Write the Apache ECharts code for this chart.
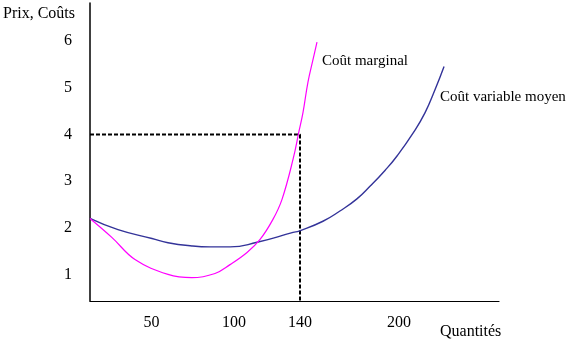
<!DOCTYPE html>
<html>
<head>
<meta charset="utf-8">
<script src="https://cdn.jsdelivr.net/npm/echarts@6/dist/echarts.min.js"></script>
<style>
html,body{margin:0;padding:0;background:#fff;}
#c{width:576px;height:346px;}
</style>
</head>
<body>
<div id="c"></div>
<script>
// Coût marginal (quantité, coût)
var cmQ = [12.7, 26.1, 40, 60, 74.5, 88.5, 97.6, 107.9, 115.8, 123.6, 129.1, 135.8, 139.4, 141.8, 144.8, 147.9, 150.3];
var cmP = [2.20, 1.79, 1.32, 1.00, 0.93, 1.02, 1.21, 1.47, 1.75, 2.18, 2.61, 3.47, 4.07, 4.47, 5.12, 5.61, 5.98];
// Coût variable moyen
var cvmQ = [12.7, 29.7, 50.3, 60, 74.5, 85.5, 97.6, 114, 135.8, 139.4, 153.9, 164.2, 174.5, 182.4, 191.5, 198.8, 208.5, 215.8, 221.8, 227.3];
var cvmP = [2.20, 1.96, 1.77, 1.68, 1.61, 1.59, 1.59, 1.69, 1.90, 1.93, 2.14, 2.36, 2.62, 2.89, 3.23, 3.54, 4.03, 4.47, 4.96, 5.46];
// Tick labels
var xTicks = [50, 100, 140, 200];
var yTicks = [1, 2, 3, 4, 5, 6];
// Reference point (prix = 4, quantité = 140)
var refQ = 140;
var refP = 4;
// Axis extents
var xMin = 12.73, xMax = 260.6;
var yMin = 0.43, yMax = 6.82;

function pairs(a, b) { return a.map(function (v, i) { return [v, b[i]]; }); }

var font = '"Liberation Serif", "Times New Roman", serif';
var chart = echarts.init(document.getElementById('c'), null, {renderer: 'canvas'});
chart.setOption({
  animation: false,
  backgroundColor: '#fff',
  grid: {left: 90, right: 77, top: 3, bottom: 45},
  xAxis: {
    type: 'value', min: xMin, max: xMax,
    axisLine: {show: true, lineStyle: {color: '#000', width: 1.2}},
    axisTick: {show: false},
    splitLine: {show: false},
    axisLabel: {customValues: xTicks, margin: 14, color: '#000', fontFamily: font, fontSize: 16}
  },
  yAxis: {
    type: 'value', min: yMin, max: yMax,
    axisLine: {show: true, lineStyle: {color: '#000', width: 1.5}},
    axisTick: {show: false},
    splitLine: {show: false},
    axisLabel: {customValues: yTicks, margin: 18, color: '#000', fontFamily: font, fontSize: 16}
  },
  series: [
    {
      type: 'line', name: 'ref', data: [[xMin, refP], [refQ, refP], [refQ, yMin]],
      symbol: 'none', lineStyle: {color: '#000', width: 2, type: [4, 2]}, z: 1
    },
    {
      type: 'line', name: 'Coût variable moyen', data: pairs(cvmQ, cvmP),
      symbol: 'none', smooth: 0.5, lineStyle: {color: '#333399', width: 1.4}, z: 2
    },
    {
      type: 'line', name: 'Coût marginal', data: pairs(cmQ, cmP),
      symbol: 'none', smooth: 0.4, lineStyle: {color: '#ff00ff', width: 1.2}, z: 3
    }
  ],
  graphic: [
    {type: 'text', left: 3, top: 6, style: {text: 'Prix, Coûts', font: '16px ' + font, fill: '#000'}},
    {type: 'text', left: 440, top: 324, style: {text: 'Quantités', font: '16px ' + font, fill: '#000'}},
    {type: 'text', left: 322, top: 54, style: {text: 'Coût marginal', font: '15px ' + font, fill: '#000'}},
    {type: 'text', left: 440, top: 90, style: {text: 'Coût variable moyen', font: '15px ' + font, fill: '#000'}}
  ]
});
</script>
</body>
</html>
